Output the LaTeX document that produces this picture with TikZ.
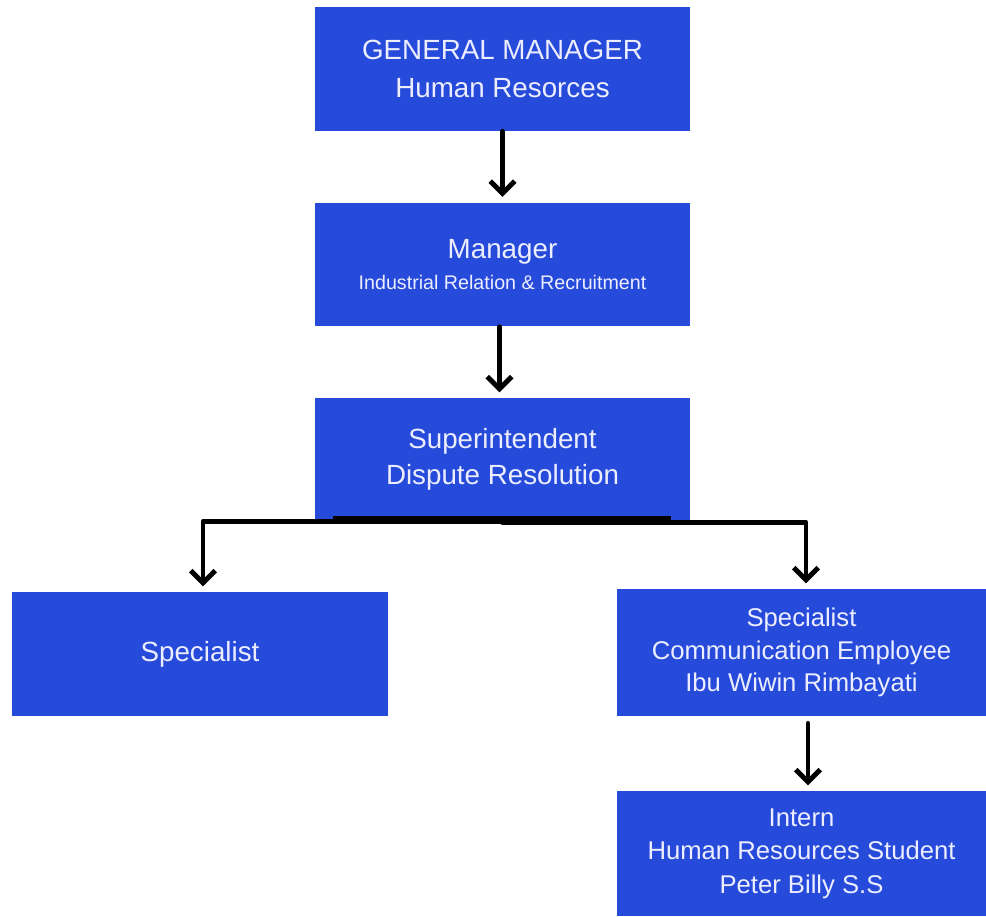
\documentclass[tikz,border=0pt]{standalone}
\usepackage{fontspec}
\setmainfont{Liberation Sans}
\usetikzlibrary{arrows.meta}
\definecolor{boxblue}{RGB}{38,74,218}
\definecolor{boxtext}{RGB}{236,238,255}
\tikzset{
orgbox/.style={fill=boxblue, text=boxtext, align=center, inner sep=0pt,
  minimum width=7.5cm, minimum height=2.48cm, font=\fontsize{15.8}{20.5}\selectfont},
link/.style={line width=2.8pt, line cap=round, line join=round,
  -{Straight Barb[length=7pt, width=14pt, line width=2.8pt]}}
}
\begin{document}
\begin{tikzpicture}[x=0.02cm, y=-0.02cm]
  \useasboundingbox[fill=white] (0,0) rectangle (986,916);
  \node[orgbox, font=\fontsize{15.8}{21.5}\selectfont] (gm) at (502.5,69) {GENERAL MANAGER\\Human Resorces};
  \node[orgbox] (mgr) at (502.5,264.5) {Manager\\[-3pt]{\fontsize{11.2}{13}\selectfont Industrial Relation \& Recruitment}};
  \node[orgbox, minimum height=2.44cm] (sup) at (502.5,459) {Superintendent\\Dispute Resolution};
  \node[orgbox, minimum width=7.52cm] (spl) at (200,654) {Specialist};
  \node[orgbox, minimum width=7.38cm, minimum height=2.54cm, font=\fontsize{14.6}{18.6}\selectfont] (spr) at (801.5,652.5) {Specialist\\Communication Employee\\Ibu Wiwin Rimbayati};
  \node[orgbox, minimum width=7.38cm, minimum height=2.5cm, font=\fontsize{14.6}{19}\selectfont] (intern) at (801.5,853.5) {Intern\\Human Resources Student\\Peter Billy S.S};
  % connectors
  \draw[link, shorten >=3pt] (gm.south) -- (mgr.north);
  \draw[link, shorten >=3pt] ([xshift=-0.06cm]mgr.south) -- ([xshift=-0.06cm]sup.north);
  \draw[line width=4.5pt] ([xshift=0.36cm]sup.south west) -- ([xshift=-0.38cm]sup.south east);
  \draw[link, shorten >=3pt] ([yshift=-0.02cm]sup.south) -| ([xshift=0.06cm]spl.north);
  \draw[link, shorten >=3pt] ([yshift=-0.04cm]sup.south) -| ([xshift=0.09cm]spr.north);
  \draw[link, shorten <=4pt, shorten >=3pt] ([xshift=0.13cm]spr.south) -- ([xshift=0.13cm]intern.north);
\end{tikzpicture}
\end{document}
